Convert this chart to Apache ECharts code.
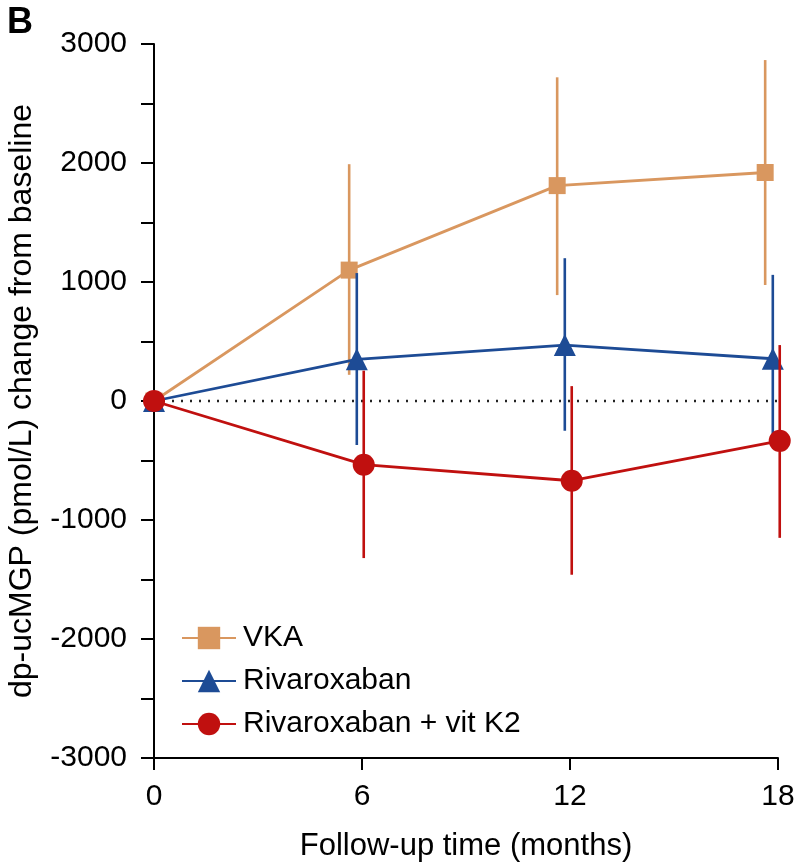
<!DOCTYPE html>
<html>
<head>
<meta charset="utf-8">
<script src="https://cdn.jsdelivr.net/npm/echarts@6/dist/echarts.min.js"></script>
<style>
  html, body { margin: 0; padding: 0; background: #fff; }
  #chart { width: 808px; height: 865px; }
</style>
</head>
<body>
<div id="chart"></div>
<script>
// follow-up months
const months = [0, 6, 12, 18]
const yTicks = [-3000, -2000, -1000, 0, 1000, 2000, 3000]

// VKA
const vkaMean = [0, 1100, 1810, 1920]
const vkaLow = [null, 220, 890, 975]
const vkaHigh = [null, 1990, 2720, 2865]

// Rivaroxaban
const rivaMean = [0, 350, 470, 355]
const rivaLow = [null, -370, -250, -350]
const rivaHigh = [null, 1075, 1200, 1060]

// Rivaroxaban + vit K2
const k2Mean = [0, -535, -670, -335]
const k2Low = [null, -1320, -1460, -1150]
const k2High = [null, 255, 125, 470]

const font = 'Liberation Sans, Arial, Helvetica, sans-serif'
const colors = { vka: '#D9975F', riva: '#1D4B95', k2: '#C0100F' }

// small horizontal dodge so the groups don't overlap (months)
const dodge = { vka: -0.37, riva: -0.15, k2: 0.05 }

const chart = echarts.init(document.getElementById('chart'))

const linePoints = (mean, dx) => months.map((m, i) => [i === 0 ? m : m + dx, mean[i]])

const lineSeries = (name, mean, dx, color, symbol, size, z) => ({
  name,
  type: 'line',
  data: linePoints(mean, dx),
  symbol,
  symbolSize: size,
  showSymbol: true,
  clip: false,
  lineStyle: { color, width: 2.8 },
  itemStyle: { color },
  z
})

const errorBars = (low, high, dx, color, z) => ({
  type: 'custom',
  z,
  clip: false,
  data: months.map((m, i) => [m + dx, low[i], high[i]]),
  encode: { x: 0, y: [1, 2] },
  renderItem: (params, api) => {
    if (api.value(1) == null || isNaN(api.value(1))) return null
    const top = api.coord([api.value(0), api.value(2)])
    const bot = api.coord([api.value(0), api.value(1)])
    return {
      type: 'line',
      shape: { x1: top[0], y1: top[1], x2: bot[0], y2: bot[1] },
      style: { stroke: color, lineWidth: 2.6 }
    }
  }
})

chart.setOption({
  animation: false,
  grid: { left: 154, right: 30, top: 44, bottom: 107, outerBoundsMode: 'none' },
  graphic: [{
    type: 'text',
    left: 7,
    top: 5,
    style: { text: 'B', font: 'bold 36px ' + font, fill: '#000' }
  }],
  legend: {
    orient: 'vertical',
    left: 176,
    top: 618,
    itemWidth: 54,
    itemHeight: 28,
    itemGap: 13,
    data: ['VKA', 'Rivaroxaban', 'Rivaroxaban + vit K2'],
    textStyle: { fontFamily: font, fontSize: 30, color: '#000', padding: [0, 0, 0, 2] }
  },
  xAxis: {
    type: 'value',
    min: 0,
    max: 18,
    interval: 6,
    name: 'Follow-up time (months)',
    nameLocation: 'middle',
    nameGap: 73,
    nameTextStyle: { fontFamily: font, fontSize: 31, color: '#000' },
    axisLine: { onZero: false, lineStyle: { color: '#000', width: 2 } },
    axisTick: { inside: false, length: 12, lineStyle: { color: '#000', width: 2 } },
    axisLabel: { fontFamily: font, fontSize: 30, color: '#000', margin: 24 },
    splitLine: { show: false }
  },
  yAxis: {
    type: 'value',
    min: yTicks[0],
    max: yTicks[yTicks.length - 1],
    interval: 1000,
    name: 'dp-ucMGP (pmol/L) change from baseline',
    nameLocation: 'middle',
    nameRotate: 90,
    nameGap: 116,
    nameTextStyle: { fontFamily: font, fontSize: 32, color: '#000' },
    axisLine: { show: true, onZero: false, lineStyle: { color: '#000', width: 2 } },
    axisTick: { show: true, inside: false, length: 13, lineStyle: { color: '#000', width: 2 } },
    minorTick: { show: true, splitNumber: 2, length: 13, lineStyle: { color: '#000', width: 2 } },
    axisLabel: { fontFamily: font, fontSize: 30, color: '#000', margin: 27, formatter: (v) => String(v) },
    splitLine: { show: false }
  },
  series: [
    {
      type: 'line',
      data: [[months[0], 0], [months[months.length - 1], 0]],
      symbol: 'none',
      silent: true,
      lineStyle: { color: '#222', width: 2.5, type: [2, 7] },
      z: 1
    },
    errorBars(vkaLow, vkaHigh, dodge.vka, colors.vka, 2),
    lineSeries('VKA', vkaMean, dodge.vka, colors.vka, 'rect', 17, 3),
    errorBars(rivaLow, rivaHigh, dodge.riva, colors.riva, 4),
    lineSeries('Rivaroxaban', rivaMean, dodge.riva, colors.riva, 'triangle', 22, 5),
    errorBars(k2Low, k2High, dodge.k2, colors.k2, 6),
    lineSeries('Rivaroxaban + vit K2', k2Mean, dodge.k2, colors.k2, 'circle', 22, 7)
  ]
})
</script>
</body>
</html>
